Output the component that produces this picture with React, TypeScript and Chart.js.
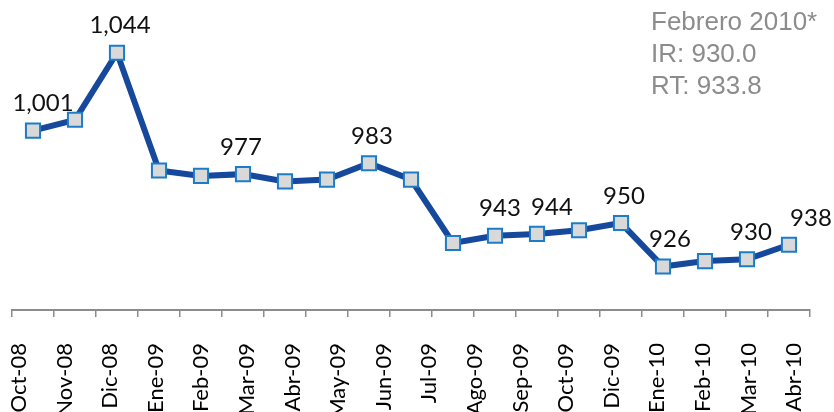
import React, { useEffect, useRef } from 'react';
import { Chart, registerables } from 'chart.js';

Chart.register(...registerables);

// ---- data ----
const xLabels = [
  'Oct-08', 'Nov-08', 'Dic-08', 'Ene-09', 'Feb-09', 'Mar-09', 'Abr-09', 'May-09', 'Jun-09',
  'Jul-09', 'Ago-09', 'Sep-09', 'Oct-09', 'Dic-09', 'Ene-10', 'Feb-10', 'Mar-10', 'Abr-10',
];
const values = [1001, 1007, 1044, 979, 976, 977, 973, 974, 983, 974, 939, 943, 944, 946, 950, 926, 929, 930, 938];
const labeledPoints = [0, 2, 5, 8, 11, 12, 14, 15, 17, 18];
const noteLines = ['Febrero 2010*', 'IR: 930.0', 'RT: 933.8'];
const yMin = 902;
const yMax = 1066.5;

const valueLabelPlugin = {
  id: 'valueLabels',
  afterDatasetsDraw(chart: any, _args: any, opts: any) {
    const meta = chart.getDatasetMeta(0);
    const ctx = chart.ctx;
    ctx.save();
    ctx.font = '24px Lato';
    ctx.fillStyle = '#111111';
    ctx.textAlign = 'center';
    ctx.textBaseline = 'middle';
    labeledPoints.forEach((i) => {
      const el = meta.data[i];
      if (!el) return;
      const dx = opts.nudge && opts.nudge[i] !== undefined ? opts.nudge[i] : 3;
      const text = values[i].toLocaleString('en-US');
      ctx.fillText(text, el.x + dx, el.y - 27);
    });
    ctx.restore();
  },
};

const notePlugin = {
  id: 'noteText',
  afterDraw(chart: any) {
    const ctx = chart.ctx;
    ctx.save();
    ctx.font = '26px "Liberation Sans", Arial, sans-serif';
    ctx.fillStyle = '#8c8c8c';
    ctx.textAlign = 'left';
    ctx.textBaseline = 'alphabetic';
    noteLines.forEach((line, i) => {
      ctx.fillText(line, 651, 30 + i * 32);
    });
    ctx.restore();
  },
};

export default function App() {
  const ref = useRef<HTMLCanvasElement>(null);

  useEffect(() => {
    if (!ref.current) return;
    const chart = new Chart(ref.current, {
      type: 'line',
      data: {
        labels: values.map((_, i) => String(i)),
        datasets: [
          {
            data: values,
            xAxisID: 'x',
            yAxisID: 'y',
            borderColor: '#16489c',
            borderWidth: 6,
            tension: 0,
            pointStyle: 'rect',
            pointRadius: 10,
            pointHoverRadius: 10,
            pointBackgroundColor: '#d9d9d9',
            pointBorderColor: '#1c7cc6',
            pointBorderWidth: 2,
          },
        ],
      },
      options: {
        responsive: true,
        maintainAspectRatio: false,
        animation: false,
        events: [],
        layout: { padding: { left: 8, right: 24, top: 6, bottom: 0 } },
        plugins: {
          legend: { display: false },
          tooltip: { enabled: false },
          valueLabels: { nudge: { 0: 10, 5: -2, 11: 5, 12: 15, 15: 7, 17: 4, 18: 22 } },
        } as any,
        scales: {
          x: {
            type: 'category',
            position: 'bottom',
            offset: true,
            weight: 0,
            ticks: { display: false },
            afterFit: (s: any) => {
              s.paddingLeft = 0;
              s.paddingRight = 0;
            },
            grid: {
              offset: true,
              drawOnChartArea: false,
              drawTicks: true,
              tickLength: 7,
              color: '#8c8c8c',
              lineWidth: 1.5,
            },
            border: { display: true, color: '#8c8c8c', width: 2 },
          },
          xl: {
            type: 'linear',
            position: 'bottom',
            weight: 1,
            min: -0.153,
            max: xLabels.length - 1 + 0.349,
            afterBuildTicks: (s: any) => {
              s.ticks = xLabels.map((_, i) => ({ value: i }));
            },
            afterFit: (s: any) => {
              s.height = 95;
              s.paddingLeft = 0;
              s.paddingRight = 0;
            },
            grid: { display: false, drawTicks: false },
            border: { display: false },
            ticks: {
              autoSkip: false,
              minRotation: 90,
              maxRotation: 90,
              padding: 26,
              color: '#000000',
              font: { family: 'Lato', size: 22 },
              callback: (v: any) => xLabels[v] ?? '',
            },
          },
          y: { display: false, min: yMin, max: yMax },
        } as any,
      },
      plugins: [valueLabelPlugin, notePlugin],
    });
    return () => chart.destroy();
  }, []);

  return (
    <div style={{ position: 'absolute', left: 0, top: 0, width: 834, height: 412, background: '#ffffff' }}>
      <canvas ref={ref} />
    </div>
  );
}
